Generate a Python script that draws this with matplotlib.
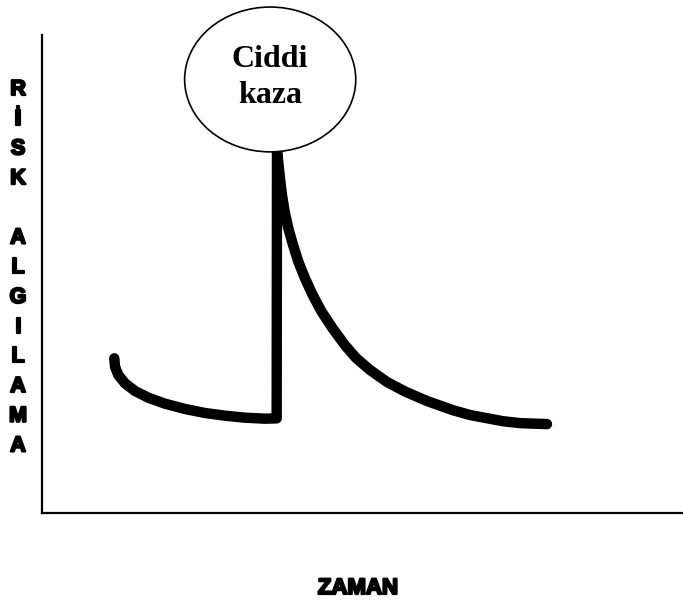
import matplotlib
matplotlib.use("Agg")
import matplotlib.pyplot as plt
import matplotlib.patheffects as pe
from matplotlib.patches import Ellipse

# risk perception curve (time 0-100, risk 0-100)
before_x = [11.28, 11.39, 11.90, 12.95, 14.51, 16.58, 19.19, 22.31, 25.43,
            28.55, 31.67, 34.79, 36.61]
before_y = [32.36, 30.61, 28.87, 27.13, 25.52, 24.12, 22.87, 21.76, 20.92,
            20.36, 19.94, 19.73, 19.8]
peak_x = [36.61, 36.66]
peak_y = [19.8, 75.9]
after_x = [36.66, 37.13, 37.44, 37.86, 38.42, 39.16, 39.98, 41.03, 42.23, 43.63,
           45.35, 47.27, 48.99, 51.17, 53.82, 56.63, 60.06, 64.12, 66.77, 71.92,
           74.57, 78.78]
after_y = [75.9, 70.0, 66.5, 63.0, 59.6, 56.1, 52.6, 49.1, 45.6, 42.1,
           38.6, 35.1, 32.43, 29.92, 27.41, 25.42, 23.43, 21.5, 20.5, 19.2,
           18.8, 18.6]

event_label = ["Ciddi", "kaza"]
y_letters = ["R", "İ", "S", "K", "", "A", "L", "G", "I", "L", "A", "M", "A"]
x_title = "ZAMAN"

W, H = 683, 601
fig = plt.figure(figsize=(W / 100, H / 100), dpi=100)
ax = fig.add_axes([42 / W, (H - 513) / H, (W - 42) / W, 478 / H])
ax.set_xlim(0, 100)
ax.set_ylim(0, 100)
for s in ["top", "right"]:
    ax.spines[s].set_visible(False)
for s in ["left", "bottom"]:
    ax.spines[s].set_linewidth(1.6)
ax.set_xticks([])
ax.set_yticks([])

xs = before_x + peak_x + after_x
ys = before_y + peak_y + after_y
ax.plot(xs, ys, color="black", lw=7.5, solid_capstyle="round",
        solid_joinstyle="round", clip_on=False)

# bubble marking the accident
ell = Ellipse((35.6, 90.7), 26.7, 30.3, facecolor="white", edgecolor="black",
              lw=1.2, clip_on=False, zorder=5)
ax.add_patch(ell)
for i, word in enumerate(event_label):
    fig.text(270 / W, 1 - (67 + i * 36) / H, word, ha="center", va="baseline",
             fontsize=23, fontweight="bold", family="Liberation Serif", zorder=6)

thick = [pe.withStroke(linewidth=1.6, foreground="black")]
for i, ch in enumerate(y_letters):
    if ch:
        fig.text(18 / W, 1 - (95 + i * 29.7) / H, ch, ha="center", va="baseline",
                 fontsize=15.5, fontweight="bold", family="Liberation Sans",
                 path_effects=thick)

fig.text(358 / W, 1 - 594 / H, x_title, ha="center", va="baseline",
         fontsize=16, fontweight="bold", family="Liberation Sans",
         path_effects=thick)

fig.savefig("out.png", dpi=100)
